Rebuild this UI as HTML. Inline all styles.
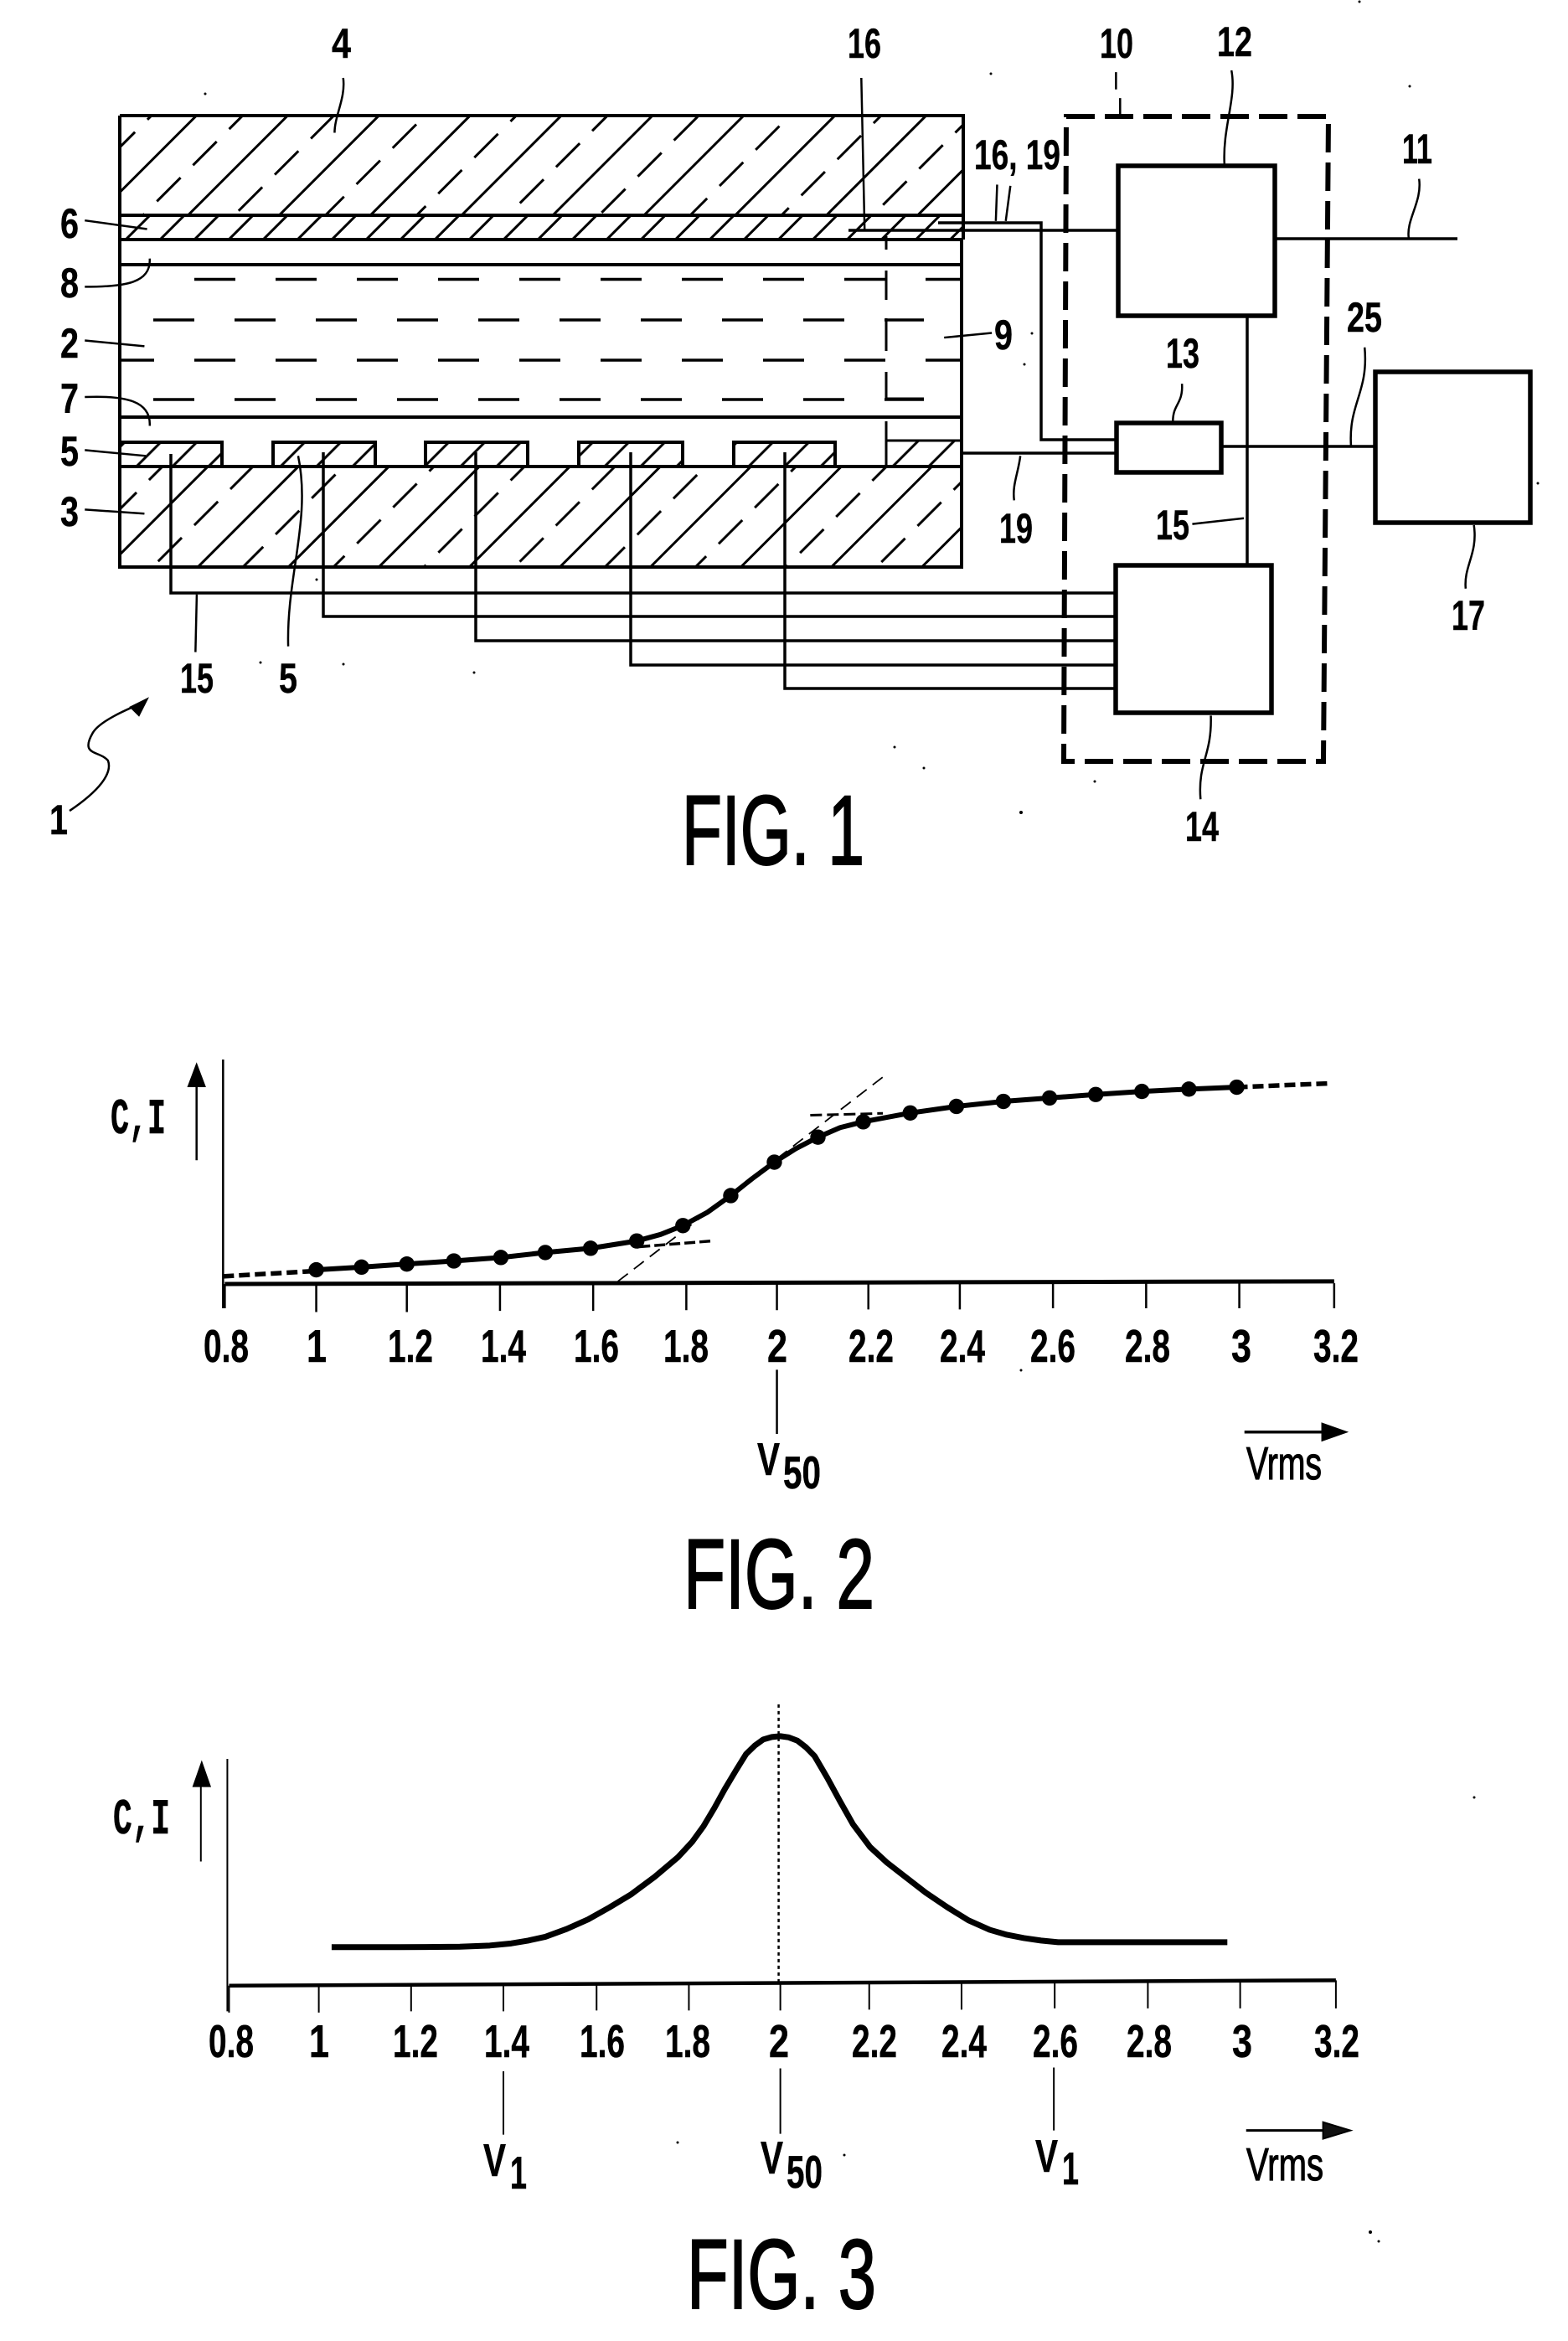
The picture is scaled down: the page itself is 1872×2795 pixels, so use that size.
<!DOCTYPE html>
<html><head><meta charset="utf-8"><style>
html,body{margin:0;padding:0;background:#fff}
svg{display:block}
.z *{vector-effect:non-scaling-stroke}
text{font-family:"Liberation Sans",sans-serif;fill:#000;stroke:#000;stroke-width:.7}
.t{font-size:50px;font-weight:bold}
.t text{stroke-width:.4}
.n{font-size:55px;font-weight:bold;text-anchor:middle}
.n text{stroke-width:.5}
.b{font-size:55px;font-weight:bold;stroke-width:.5}
.fig{font-size:118px;stroke-width:2}
.ci{font-family:"Liberation Mono",monospace;font-size:60px;font-weight:bold;stroke-width:.6}
</style></head><body>
<svg width="1872" height="2795" viewBox="0 0 1872 2795" xmlns="http://www.w3.org/2000/svg">
<defs>
<pattern id="ga" width="61" height="77" patternUnits="userSpaceOnUse" patternTransform="translate(19,0) rotate(-45)">
<line x1="0" y1="19" x2="61" y2="19" stroke="#000" stroke-width="3"/>
<line x1="10" y1="58" x2="50" y2="58" stroke="#000" stroke-width="3"/>
</pattern>
<pattern id="gb" width="61" height="76.4" patternUnits="userSpaceOnUse" patternTransform="translate(22,0) rotate(-45)">
<line x1="0" y1="19" x2="61" y2="19" stroke="#000" stroke-width="3"/>
<line x1="10" y1="57" x2="50" y2="57" stroke="#000" stroke-width="3"/>
</pattern>
<pattern id="l6" width="20" height="29" patternUnits="userSpaceOnUse" patternTransform="translate(5.5,0) rotate(-45)">
<line x1="0" y1="14.5" x2="20" y2="14.5" stroke="#000" stroke-width="3"/>
</pattern>
<pattern id="el" width="20" height="30.4" patternUnits="userSpaceOnUse" patternTransform="translate(10.5,0) rotate(-45)">
<line x1="0" y1="15.2" x2="20" y2="15.2" stroke="#000" stroke-width="3"/>
</pattern>
</defs>
<rect width="1872" height="2795" fill="#fff"/>

<!-- FIG 1 panel -->
<rect x="143" y="138" width="1007" height="119" fill="url(#ga)"/>
<rect x="143" y="257" width="1007" height="29" fill="url(#l6)"/>
<rect x="143" y="557" width="1006" height="120" fill="url(#gb)"/>
<g fill="url(#el)" stroke="#000" stroke-width="4">
<rect x="143" y="528" width="122" height="29"/>
<rect x="326" y="528" width="122" height="29"/>
<rect x="508" y="528" width="122" height="29"/>
<rect x="691" y="528" width="124" height="29"/>
<rect x="876" y="528" width="121" height="29"/>
</g>
<rect x="1058" y="526" width="90" height="31" fill="url(#el)"/>
<g stroke="#000" fill="none" stroke-width="4">
<path d="M143 138H1150V286M143 138V677H1148V286" />
<path d="M143 257H1150M143 286H1150M143 316H1150M143 498H1150M143 557H1150" />
<path d="M1058 526H1148" stroke-width="3"/>
<path d="M1058 282V298M1058 323V358M1058 380V419M1058 444V476M1058 503V557" stroke-width="3"/>
<path d="M1058 382H1103M1058 476H1103" stroke-width="3"/>
</g>
<g stroke="#000" fill="none" stroke-width="3.5" stroke-dasharray="49 48">
<line x1="232" y1="333.5" x2="1148" y2="333.5"/>
<line x1="183" y1="382" x2="1103" y2="382"/>
<line x1="232" y1="430" x2="1148" y2="430"/>
<line x1="183" y1="477" x2="1103" y2="477"/>
</g>
<path d="M143 430H184" stroke="#000" stroke-width="3.5"/>
<!-- wires -->
<g stroke="#000" fill="none" stroke-width="3.5">
<path d="M204 542V708H1332"/>
<path d="M386 540V736H1332"/>
<path d="M568 540V765H1332"/>
<path d="M753 540V794H1332"/>
<path d="M937 540V822H1332"/>
<path d="M1013 275H1335"/>
<path d="M1120 266H1243V525H1333"/>
<path d="M1150 541H1333"/>
<path d="M1458 533H1642"/>
<path d="M1522 285H1740"/>
<path d="M1489 377V675"/>
</g>
<!-- boxes -->
<g stroke="#000" fill="#fff" stroke-width="5.5">
<path d="M1335 198H1522V377H1335Z"/>
<path d="M1333 505H1458V564H1333Z"/>
<path d="M1332 675H1518V851H1332Z"/>
<path d="M1642 444H1827V624H1642Z"/>
</g>
<path d="M1273 139H1586L1580 909H1270Z" fill="none" stroke="#000" stroke-width="6" stroke-dasharray="34 12"/>

<!-- leaders z1 -->
<g class="z" transform="scale(.791,.689)" fill="none" stroke="#000" stroke-width="2.5">
<path d="M128 382L222 397"/>
<path d="M128 497C190 497 228 490 226 448"/>
<path d="M128 590L218 600"/>
<path d="M128 688C190 685 228 695 226 738"/>
<path d="M128 780L220 790"/>
<path d="M128 883L218 890"/>
<path d="M518 135C522 170 505 200 505 230"/>
<path d="M1300 135L1305 400"/>
<path d="M435 1120C432 1000 470 900 450 790"/>
<path d="M295 1130L297 1030"/>
<path d="M1425 585L1497 577"/>
<path d="M1505 320L1503 383M1525 322L1518 383"/>
<path d="M105 1405C150 1370 170 1340 163 1318C150 1300 120 1310 140 1270C150 1250 190 1230 215 1218"/>
<polygon points="225,1208 195,1225 210,1242" fill="#000" stroke="none"/>
</g>
<!-- leaders z2 -->
<g class="z" transform="translate(1100,0) scale(.4923,.689)" fill="none" stroke="#000" stroke-width="2.5">
<path d="M472 125V155M482 170V200"/>
<path d="M752 122C765 170 730 220 735 285"/>
<path d="M632 665C635 700 610 700 610 730"/>
<path d="M1207 310C1215 350 1175 380 1182 413"/>
<path d="M1075 602C1085 680 1035 700 1042 773"/>
<path d="M1340 910C1350 960 1315 980 1320 1020"/>
<path d="M702 1240C705 1310 670 1320 677 1385"/>
<path d="M240 790C235 820 220 840 225 867"/>
<path d="M657 908L782 898"/>
</g>

<!-- labels fig1 -->
<g class="t">
<text x="396" y="69" textLength="23" lengthAdjust="spacingAndGlyphs">4</text>
<text x="1012" y="69" textLength="40" lengthAdjust="spacingAndGlyphs">16</text>
<text x="72" y="284" textLength="22" lengthAdjust="spacingAndGlyphs">6</text>
<text x="72" y="355" textLength="22" lengthAdjust="spacingAndGlyphs">8</text>
<text x="72" y="427" textLength="22" lengthAdjust="spacingAndGlyphs">2</text>
<text x="72" y="493" textLength="22" lengthAdjust="spacingAndGlyphs">7</text>
<text x="72" y="556" textLength="22" lengthAdjust="spacingAndGlyphs">5</text>
<text x="72" y="628" textLength="22" lengthAdjust="spacingAndGlyphs">3</text>
<text x="215" y="827" textLength="40" lengthAdjust="spacingAndGlyphs">15</text>
<text x="333" y="827" textLength="22" lengthAdjust="spacingAndGlyphs">5</text>
<text x="59" y="996" textLength="22" lengthAdjust="spacingAndGlyphs">1</text>
<text x="1187" y="417" textLength="22" lengthAdjust="spacingAndGlyphs">9</text>
<text x="1193" y="648" textLength="40" lengthAdjust="spacingAndGlyphs">19</text>
<text x="1163" y="202" textLength="103" lengthAdjust="spacingAndGlyphs">16, 19</text>
<text x="1313" y="69" textLength="40" lengthAdjust="spacingAndGlyphs">10</text>
<text x="1453" y="67" textLength="42" lengthAdjust="spacingAndGlyphs">12</text>
<text x="1674" y="195" textLength="36" lengthAdjust="spacingAndGlyphs">11</text>
<text x="1608" y="396" textLength="42" lengthAdjust="spacingAndGlyphs">25</text>
<text x="1392" y="439" textLength="40" lengthAdjust="spacingAndGlyphs">13</text>
<text x="1380" y="644" textLength="40" lengthAdjust="spacingAndGlyphs">15</text>
<text x="1733" y="752" textLength="40" lengthAdjust="spacingAndGlyphs">17</text>
<text x="1415" y="1004" textLength="40" lengthAdjust="spacingAndGlyphs">14</text>
</g>
<text class="fig" x="814" y="1032" textLength="218" lengthAdjust="spacingAndGlyphs">FIG. 1</text>

<!-- FIG 2 -->
<g class="z" transform="translate(100,1220) scale(1.0204,.459)" fill="none" stroke="#000">
<path d="M163 98V745" stroke-width="2.5"/>
<path d="M165 682L1463 675" stroke-width="5"/>
<path d="M165 682V745M272 680V755M378 680V755M487 680V752M596 680V752M705 680V750M811 680V750M918 680V748M1025 680V748M1134 680V745M1243 680V745M1352 680V745M1463 680V745" stroke-width="2.5"/>
<path d="M132 360V170" stroke-width="2.5"/>
<polygon points="132,105 121,170 143,170" fill="#000" stroke="none"/>
<path d="M625 675L940 135" stroke-width="1.8" stroke-dasharray="15 9"/>
<path d="M850 243L935 238" stroke-width="3" stroke-dasharray="14 6"/>
<path d="M650 585L735 570" stroke-width="3.5" stroke-dasharray="13 5"/>
<path d="M163 662L272 648" stroke-width="5.5" stroke-dasharray="13 6"/>
<path d="M1349 170L1458 160" stroke-width="5.5" stroke-dasharray="13 6"/>
<polyline stroke-width="6" stroke-linejoin="round" points="272,645 325,638 378,630 433,622 488,613 540,600 593,589 647,570 675,553 701,530 730,495 757,452 782,408 808,365 833,330 859,300 885,275 912,260 967,237 1021,220 1076,207 1130,198 1184,189 1238,181 1293,175 1349,170"/>
<path d="M811 905V1072" stroke-width="2.5"/>
<path d="M1358 1067H1450" stroke-width="3.5"/>
<polygon points="1448,1042 1480,1067 1448,1092" fill="#000" stroke="none"/>
<g fill="#000" stroke="none">
<ellipse cx="272" cy="645" rx="9" ry="20"/><ellipse cx="325" cy="638" rx="9" ry="20"/><ellipse cx="378" cy="630" rx="9" ry="20"/><ellipse cx="433" cy="622" rx="9" ry="20"/><ellipse cx="488" cy="613" rx="9" ry="20"/><ellipse cx="540" cy="600" rx="9" ry="20"/><ellipse cx="593" cy="589" rx="9" ry="20"/><ellipse cx="647" cy="570" rx="9" ry="20"/><ellipse cx="701" cy="530" rx="9" ry="20"/><ellipse cx="757" cy="452" rx="9" ry="20"/><ellipse cx="808" cy="365" rx="9" ry="20"/><ellipse cx="859" cy="300" rx="9" ry="20"/><ellipse cx="912" cy="260" rx="9" ry="20"/><ellipse cx="967" cy="237" rx="9" ry="20"/><ellipse cx="1021" cy="220" rx="9" ry="20"/><ellipse cx="1076" cy="207" rx="9" ry="20"/><ellipse cx="1130" cy="198" rx="9" ry="20"/><ellipse cx="1184" cy="189" rx="9" ry="20"/><ellipse cx="1238" cy="181" rx="9" ry="20"/><ellipse cx="1293" cy="175" rx="9" ry="20"/><ellipse cx="1349" cy="170" rx="9" ry="20"/>
</g>
</g>
<g class="n">
<text x="270" y="1626" textLength="54" lengthAdjust="spacingAndGlyphs">0.8</text><text x="378" y="1626" textLength="24" lengthAdjust="spacingAndGlyphs">1</text><text x="490" y="1626" textLength="54" lengthAdjust="spacingAndGlyphs">1.2</text><text x="601" y="1626" textLength="54" lengthAdjust="spacingAndGlyphs">1.4</text><text x="712" y="1626" textLength="54" lengthAdjust="spacingAndGlyphs">1.6</text><text x="819" y="1626" textLength="54" lengthAdjust="spacingAndGlyphs">1.8</text><text x="928" y="1626" textLength="24" lengthAdjust="spacingAndGlyphs">2</text><text x="1040" y="1626" textLength="54" lengthAdjust="spacingAndGlyphs">2.2</text><text x="1149" y="1626" textLength="54" lengthAdjust="spacingAndGlyphs">2.4</text><text x="1257" y="1626" textLength="54" lengthAdjust="spacingAndGlyphs">2.6</text><text x="1370" y="1626" textLength="54" lengthAdjust="spacingAndGlyphs">2.8</text><text x="1482" y="1626" textLength="24" lengthAdjust="spacingAndGlyphs">3</text><text x="1595" y="1626" textLength="54" lengthAdjust="spacingAndGlyphs">3.2</text>
</g>
<text class="ci" x="132" y="1353" textLength="66" lengthAdjust="spacingAndGlyphs">C,I</text>
<text class="b" x="904" y="1761" textLength="27" lengthAdjust="spacingAndGlyphs">V</text>
<text class="b" x="935" y="1777" textLength="45" lengthAdjust="spacingAndGlyphs">50</text>
<text class="b" x="1488" y="1766" textLength="90" lengthAdjust="spacingAndGlyphs" style="font-weight:normal;stroke-width:1.2">Vrms</text>
<text class="fig" x="816" y="1920" textLength="228" lengthAdjust="spacingAndGlyphs">FIG. 2</text>

<!-- FIG 3 -->
<g class="z" transform="translate(100,2020) scale(1.0204,.494)" fill="none" stroke="#000">
<path d="M168 162V772" stroke-width="2"/>
<path d="M170 710L1465 697" stroke-width="4.5"/>
<path d="M170 710V775M275 710V775M383 708V772M491 708V772M600 708V770M708 706V770M815 706V770M919 704V768M1027 704V768M1136 702V765M1245 702V765M1353 700V765M1465 697V765" stroke-width="2"/>
<path d="M137 410V228" stroke-width="2"/>
<polygon points="138,165 127,230 149,230" fill="#000" stroke="none"/>
<path d="M813 30V700" stroke-width="2.5" stroke-dasharray="4 4"/>
<polyline stroke-width="7" stroke-linejoin="round" stroke-linecap="butt" points="290,617 370,617 440,616 475,613 500,608 520,601 540,592 565,573 590,550 615,521 640,490 668,447 695,400 712,362 725,325 738,280 750,235 763,190 775,150 785,130 795,115 805,109 815,107 825,110 835,118 845,134 855,155 870,208 885,265 900,320 920,375 940,413 960,445 985,485 1010,520 1035,552 1060,575 1080,587 1100,595 1120,601 1140,605 1240,605 1338,605"/>
<path d="M491 917V1070M815 910V1068M1135 908V1060" stroke-width="2"/>
<path d="M1360 1060H1450" stroke-width="3"/>
<polygon points="1450,1040 1482,1060 1450,1080" fill="#111" stroke="#000" stroke-width="2"/>
</g>
<g class="n">
<text x="276" y="2456" textLength="54" lengthAdjust="spacingAndGlyphs">0.8</text><text x="381" y="2456" textLength="24" lengthAdjust="spacingAndGlyphs">1</text><text x="496" y="2456" textLength="54" lengthAdjust="spacingAndGlyphs">1.2</text><text x="605" y="2456" textLength="54" lengthAdjust="spacingAndGlyphs">1.4</text><text x="719" y="2456" textLength="54" lengthAdjust="spacingAndGlyphs">1.6</text><text x="821" y="2456" textLength="54" lengthAdjust="spacingAndGlyphs">1.8</text><text x="930" y="2456" textLength="24" lengthAdjust="spacingAndGlyphs">2</text><text x="1044" y="2456" textLength="54" lengthAdjust="spacingAndGlyphs">2.2</text><text x="1151" y="2456" textLength="54" lengthAdjust="spacingAndGlyphs">2.4</text><text x="1260" y="2456" textLength="54" lengthAdjust="spacingAndGlyphs">2.6</text><text x="1372" y="2456" textLength="54" lengthAdjust="spacingAndGlyphs">2.8</text><text x="1483" y="2456" textLength="24" lengthAdjust="spacingAndGlyphs">3</text><text x="1596" y="2456" textLength="54" lengthAdjust="spacingAndGlyphs">3.2</text>
</g>
<text class="ci" x="135" y="2189" textLength="68" lengthAdjust="spacingAndGlyphs">C,I</text>
<text class="b" x="577" y="2598" textLength="27" lengthAdjust="spacingAndGlyphs">V</text>
<text class="b" x="609" y="2613" textLength="20" lengthAdjust="spacingAndGlyphs">1</text>
<text class="b" x="908" y="2595" textLength="27" lengthAdjust="spacingAndGlyphs">V</text>
<text class="b" x="939" y="2612" textLength="43" lengthAdjust="spacingAndGlyphs">50</text>
<text class="b" x="1236" y="2593" textLength="27" lengthAdjust="spacingAndGlyphs">V</text>
<text class="b" x="1268" y="2608" textLength="20" lengthAdjust="spacingAndGlyphs">1</text>
<text class="b" x="1488" y="2603" textLength="92" lengthAdjust="spacingAndGlyphs" style="font-weight:normal;stroke-width:1.2">Vrms</text>
<text class="fig" x="820" y="2756" textLength="226" lengthAdjust="spacingAndGlyphs">FIG. 3</text>

<!-- specks -->
<g fill="#000">
<circle cx="245" cy="112" r="1.5"/><circle cx="1183" cy="88" r="1.5"/><circle cx="1683" cy="103" r="1.5"/><circle cx="1623" cy="2" r="1.5"/><circle cx="1836" cy="577" r="1.5"/><circle cx="1103" cy="917" r="1.5"/><circle cx="1307" cy="933" r="1.5"/><circle cx="1219" cy="970" r="2"/><circle cx="1232" cy="398" r="1.5"/><circle cx="1223" cy="435" r="1.5"/><circle cx="311" cy="791" r="1.5"/><circle cx="410" cy="793" r="1.5"/><circle cx="566" cy="803" r="1.5"/><circle cx="1068" cy="892" r="1.5"/><circle cx="378" cy="692" r="1.5"/><circle cx="1219" cy="1636" r="1.5"/><circle cx="809" cy="2558" r="1.5"/><circle cx="1008" cy="2573" r="1.5"/><circle cx="1636" cy="2665" r="2"/><circle cx="1760" cy="2146" r="1.5"/><circle cx="1646" cy="2676" r="1.5"/>
</g>
</svg>
</body></html>
